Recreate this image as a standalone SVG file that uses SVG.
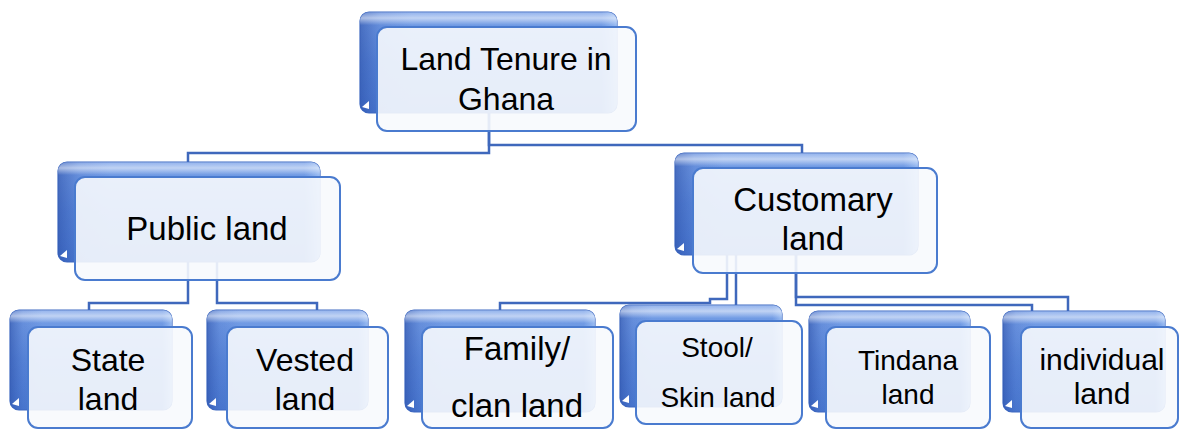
<svg xmlns="http://www.w3.org/2000/svg" width="1179" height="430" viewBox="0 0 1179 430">
  <style>
    .conn { fill: none; stroke: #3F68BC; stroke-width: 2.5; stroke-linejoin: miter; }
    .back { fill: url(#backFill); stroke: #3F6AC2; stroke-width: 1.2; }
    .backShade { fill: url(#backShade); }
    .backGloss { fill: url(#backGloss); }
    .front { fill: #F7F9FD; fill-opacity: 0.9; stroke: #4A7BCF; stroke-width: 2; }
    .notch { fill: #FFFFFF; }
    .lbl { font-family: "Liberation Sans", Arial, sans-serif; fill: #000000; text-anchor: middle; }
  </style>
  <defs>
    <linearGradient id="backFill" x1="0" y1="0" x2="0" y2="1">
      <stop offset="0" stop-color="#7FA5EA"/>
      <stop offset="0.12" stop-color="#6A96E3"/>
      <stop offset="0.5" stop-color="#5685DA"/>
      <stop offset="1" stop-color="#4C7BD2"/>
    </linearGradient>
    <linearGradient id="backShade" x1="0" y1="0" x2="1" y2="0">
      <stop offset="0" stop-color="#2F56B0" stop-opacity="0.75"/>
      <stop offset="0.08" stop-color="#3A62BE" stop-opacity="0.25"/>
      <stop offset="0.2" stop-color="#3A62BE" stop-opacity="0"/>
      <stop offset="0.94" stop-color="#9CC0F5" stop-opacity="0"/>
      <stop offset="1" stop-color="#A8C8F7" stop-opacity="0.7"/>
    </linearGradient>
    <linearGradient id="backGloss" x1="0" y1="0" x2="0" y2="1">
      <stop offset="0" stop-color="#FFFFFF" stop-opacity="0.15"/>
      <stop offset="0.06" stop-color="#FFFFFF" stop-opacity="0.55"/>
      <stop offset="0.13" stop-color="#FFFFFF" stop-opacity="0.05"/>
      <stop offset="1" stop-color="#FFFFFF" stop-opacity="0"/>
    </linearGradient>
  </defs>

  <!-- elbow connectors, drawn first so they sit behind the boxes -->
  <g id="connectors">
    <path class="conn" d="M489,113 V153 H188 V162"/>
    <path class="conn" d="M489,113 V145 H802 V153"/>
    <path class="conn" d="M188,262 V303 H89 V310"/>
    <path class="conn" d="M217,262 V303 H317 V310"/>
    <path class="conn" d="M727,255 V299 H710 V303 H500 V310"/>
    <path class="conn" d="M736,255 V305"/>
    <path class="conn" d="M796,255 V305 H1032 V311"/>
    <path class="conn" d="M796,255 V297 H1068 V311"/>
  </g>

  <g id="node-tenure">
    <rect class="back" x="360" y="12" width="257" height="101" rx="9"/>
    <rect class="backShade" x="360" y="12" width="257" height="101" rx="9"/>
    <rect class="backGloss" x="360" y="12" width="257" height="101" rx="9"/>
    <path class="notch" d="M362,107 L369,101 L369,109 Z"/>
    <rect class="front" x="377" y="27" width="259" height="104" rx="10"/>
    <text class="lbl" x="506" y="70" font-size="32">Land Tenure in</text>
    <text class="lbl" x="506" y="110" font-size="32">Ghana</text>
  </g>

  <g id="node-public">
    <rect class="back" x="58" y="162" width="262" height="100" rx="9"/>
    <rect class="backShade" x="58" y="162" width="262" height="100" rx="9"/>
    <rect class="backGloss" x="58" y="162" width="262" height="100" rx="9"/>
    <path class="notch" d="M60,256 L67,250 L67,258 Z"/>
    <rect class="front" x="75" y="177" width="265" height="103" rx="10"/>
    <text class="lbl" x="207" y="240" font-size="33">Public land</text>
  </g>

  <g id="node-customary">
    <rect class="back" x="675" y="153" width="243" height="102" rx="9"/>
    <rect class="backShade" x="675" y="153" width="243" height="102" rx="9"/>
    <rect class="backGloss" x="675" y="153" width="243" height="102" rx="9"/>
    <path class="notch" d="M677,249 L684,243 L684,251 Z"/>
    <rect class="front" x="693" y="168" width="244" height="105" rx="10"/>
    <text class="lbl" x="813" y="211" font-size="33">Customary</text>
    <text class="lbl" x="813" y="250" font-size="33">land</text>
  </g>

  <g id="node-state">
    <rect class="back" x="10" y="310" width="162" height="100" rx="9"/>
    <rect class="backShade" x="10" y="310" width="162" height="100" rx="9"/>
    <rect class="backGloss" x="10" y="310" width="162" height="100" rx="9"/>
    <path class="notch" d="M12,404 L19,398 L19,406 Z"/>
    <rect class="front" x="28" y="327" width="164" height="101" rx="10"/>
    <text class="lbl" x="108" y="371" font-size="32">State</text>
    <text class="lbl" x="108" y="410" font-size="32">land</text>
  </g>

  <g id="node-vested">
    <rect class="back" x="207" y="310" width="161" height="100" rx="9"/>
    <rect class="backShade" x="207" y="310" width="161" height="100" rx="9"/>
    <rect class="backGloss" x="207" y="310" width="161" height="100" rx="9"/>
    <path class="notch" d="M209,404 L216,398 L216,406 Z"/>
    <rect class="front" x="227" y="327" width="161" height="101" rx="10"/>
    <text class="lbl" x="305" y="371" font-size="32">Vested</text>
    <text class="lbl" x="305" y="410" font-size="32">land</text>
  </g>

  <g id="node-family">
    <rect class="back" x="405" y="310" width="190" height="102" rx="9"/>
    <rect class="backShade" x="405" y="310" width="190" height="102" rx="9"/>
    <rect class="backGloss" x="405" y="310" width="190" height="102" rx="9"/>
    <path class="notch" d="M407,406 L414,400 L414,408 Z"/>
    <rect class="front" x="422" y="327" width="191" height="101" rx="10"/>
    <text class="lbl" x="517" y="360" font-size="33">Family/</text>
    <text class="lbl" x="517" y="417" font-size="33">clan land</text>
  </g>

  <g id="node-stool">
    <rect class="back" x="620" y="305" width="162" height="102" rx="9"/>
    <rect class="backShade" x="620" y="305" width="162" height="102" rx="9"/>
    <rect class="backGloss" x="620" y="305" width="162" height="102" rx="9"/>
    <path class="notch" d="M622,401 L629,395 L629,403 Z"/>
    <rect class="front" x="636" y="321" width="166" height="103" rx="10"/>
    <text class="lbl" x="717" y="357" font-size="28">Stool/</text>
    <text class="lbl" x="718" y="407" font-size="28">Skin land</text>
  </g>

  <g id="node-tindana">
    <rect class="back" x="809" y="311" width="161" height="101" rx="9"/>
    <rect class="backShade" x="809" y="311" width="161" height="101" rx="9"/>
    <rect class="backGloss" x="809" y="311" width="161" height="101" rx="9"/>
    <path class="notch" d="M811,406 L818,400 L818,408 Z"/>
    <rect class="front" x="826" y="327" width="164" height="101" rx="10"/>
    <text class="lbl" x="908" y="370" font-size="28">Tindana</text>
    <text class="lbl" x="908" y="404" font-size="28">land</text>
  </g>

  <g id="node-individual">
    <rect class="back" x="1003" y="311" width="162" height="101" rx="9"/>
    <rect class="backShade" x="1003" y="311" width="162" height="101" rx="9"/>
    <rect class="backGloss" x="1003" y="311" width="162" height="101" rx="9"/>
    <path class="notch" d="M1005,406 L1012,400 L1012,408 Z"/>
    <rect class="front" x="1021" y="327" width="157" height="101" rx="10"/>
    <text class="lbl" x="1102" y="370" font-size="30">individual</text>
    <text class="lbl" x="1102" y="404" font-size="30">land</text>
  </g>
</svg>
